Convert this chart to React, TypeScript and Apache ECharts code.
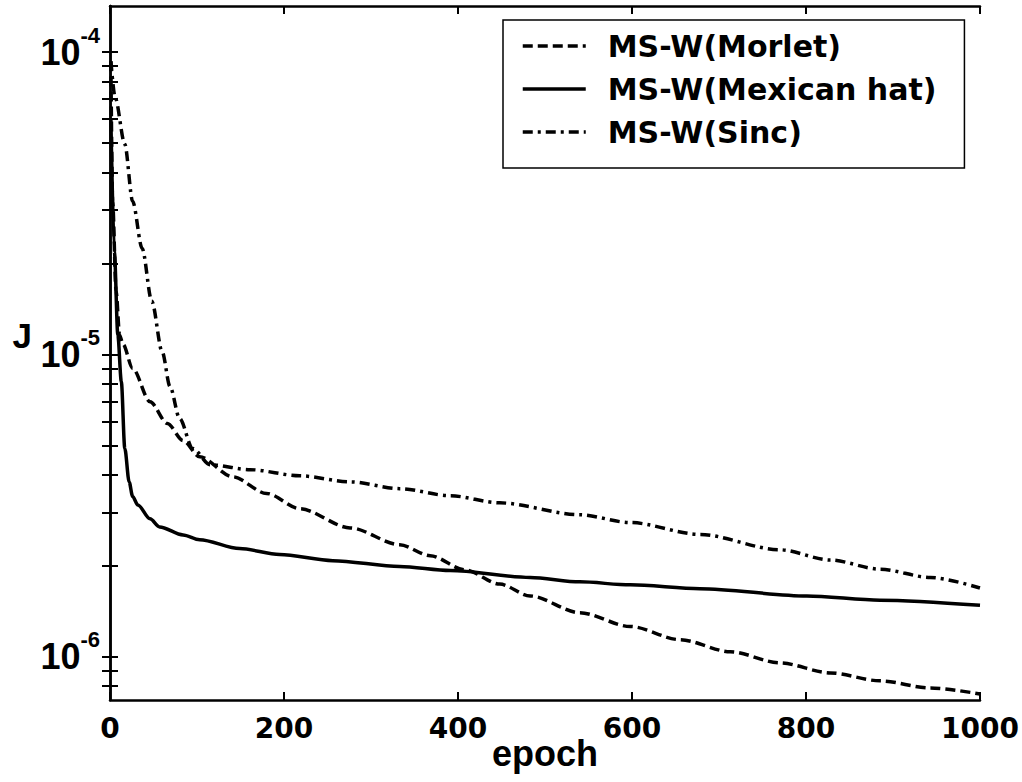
import React, { useEffect, useRef } from "react";
import * as echarts from "echarts";

const seriesNames = ["MS-W(Morlet)", "MS-W(Mexican hat)", "MS-W(Sinc)"];

const morletEpochs = [1, 3, 7, 11, 15, 26, 46, 66, 84, 103, 141, 180, 218, 276, 333, 368, 408, 448, 483, 540, 598, 655, 713, 770, 828, 885, 943, 1000];
const morletValues = [9.3e-5, 3.21e-5, 1.62e-5, 1.16e-5, 1.08e-5, 8.99e-6, 6.98e-6, 5.91e-6, 5.19e-6, 4.59e-6, 3.94e-6, 3.47e-6, 3.09e-6, 2.67e-6, 2.35e-6, 2.16e-6, 1.94e-6, 1.74e-6, 1.59e-6, 1.40e-6, 1.26e-6, 1.14e-6, 1.04e-6, 9.55e-7, 8.85e-7, 8.33e-7, 7.89e-7, 7.54e-7];

const hatEpochs = [1, 5, 9, 13, 17, 22, 26, 32, 46, 57, 84, 103, 149, 195, 256, 333, 391, 483, 540, 598, 678, 801, 885, 1000];
const hatValues = [6.0e-5, 2.19e-5, 1.16e-5, 8.14e-6, 4.89e-6, 3.79e-6, 3.39e-6, 3.18e-6, 2.86e-6, 2.69e-6, 2.53e-6, 2.44e-6, 2.28e-6, 2.18e-6, 2.08e-6, 1.99e-6, 1.93e-6, 1.83e-6, 1.77e-6, 1.73e-6, 1.68e-6, 1.59e-6, 1.54e-6, 1.48e-6];

const sincEpochs = [1, 6, 17, 26, 37, 48, 60, 69, 80, 95, 115, 161, 218, 276, 333, 391, 448, 540, 598, 678, 770, 828, 885, 943, 1000];
const sincValues = [9.33e-5, 7.05e-5, 4.96e-5, 3.21e-5, 2.24e-5, 1.5e-5, 1.02e-5, 7.83e-6, 6.14e-6, 4.89e-6, 4.32e-6, 4.16e-6, 3.97e-6, 3.79e-6, 3.6e-6, 3.41e-6, 3.23e-6, 2.95e-6, 2.78e-6, 2.54e-6, 2.26e-6, 2.09e-6, 1.95e-6, 1.83e-6, 1.69e-6];

const xTicks = [0, 200, 400, 600, 800, 1000];
const yMajorTicks = [1e-6, 1e-5, 1e-4];
const yAllTicks = [8e-7, 9e-7, 1e-6, 2e-6, 3e-6, 4e-6, 5e-6, 6e-6, 7e-6, 8e-6, 9e-6, 1e-5, 2e-5, 3e-5, 4e-5, 5e-5, 6e-5, 7e-5, 8e-5, 9e-5, 1e-4];
const yMin = 7.2e-7;
const yMax = 1.42e-4;

const zip = (xs: number[], ys: number[]) => xs.map((x, i) => [x, ys[i]]);

export default function App() {
  const ref = useRef<HTMLDivElement>(null);
  useEffect(() => {
    document.body.style.margin = "0";
    const chart = echarts.init(ref.current!, null, { renderer: "svg" });
    const axisLine = { show: true, lineStyle: { color: "#000", width: 2.5 } };
    const tick = { show: true, inside: true, length: 8, lineStyle: { color: "#000", width: 2 } };
    const yFormatter = (v: number) => {
      const e = Math.round(Math.log10(v));
      return `{b|10}{s|${e}}`;
    };
    const yAxisBase = {
      type: "log" as const,
      logBase: 10,
      min: yMin,
      max: yMax,
      splitLine: { show: false },
      minorTick: { show: false },
      axisLine,
    };
    const lineCommon = {
      type: "line" as const,
      symbol: "none",
      smooth: 0.3,
      smoothMonotone: "x" as const,
      color: "#000",
    };
    chart.setOption({
      animation: false,
      backgroundColor: "#fff",
      grid: { left: 110, right: 42, top: 6, bottom: 82, outerBoundsMode: "none", containLabel: false },
      legend: {
        left: 503,
        top: 20,
        orient: "vertical",
        data: seriesNames,
        itemWidth: 63,
        itemHeight: 14,
        itemGap: 13,
        padding: [11, 28, 21, 18],
        borderColor: "#000",
        borderWidth: 1.5,
        borderRadius: 0,
        backgroundColor: "#fff",
        itemStyle: { opacity: 0, borderWidth: 0 },
        lineStyle: { width: 3.5 },
        textStyle: {
          color: "#000",
          fontFamily: "DejaVu Sans",
          fontWeight: "bold",
          fontSize: 30,
          lineHeight: 30,
          padding: [0, 0, 0, 17],
        },
      },
      xAxis: [
        {
          type: "value",
          position: "bottom",
          min: 0,
          max: 1000,
          interval: 200,
          splitLine: { show: false },
          axisLine,
          axisTick: { ...tick, customValues: xTicks },
          axisLabel: {
            customValues: xTicks,
            formatter: (v: number) => String(v),
            margin: 14,
            color: "#000",
            fontFamily: "DejaVu Sans",
            fontWeight: "bold",
            fontSize: 28,
          },
          name: "epoch",
          nameLocation: "middle",
          nameGap: 34,
          nameMoveOverlap: false,
          nameTextStyle: {
            color: "#000",
            fontFamily: "Liberation Sans",
            fontWeight: "bold",
            fontSize: 36,
            lineHeight: 38,
          },
        },
        {
          type: "value",
          position: "top",
          min: 0,
          max: 1000,
          interval: 200,
          splitLine: { show: false },
          axisLine,
          axisTick: { ...tick, customValues: xTicks },
          axisLabel: { show: false },
        },
      ],
      yAxis: [
        {
          ...yAxisBase,
          position: "left",
          axisTick: { ...tick, customValues: yAllTicks },
          axisLabel: {
            customValues: yMajorTicks,
            margin: 10,
            formatter: yFormatter,
            color: "#000",
            rich: {
              b: { fontFamily: "Liberation Sans", fontWeight: "bold", fontSize: 36, lineHeight: 56, color: "#000" },
              s: { fontFamily: "Liberation Sans", fontWeight: "bold", fontSize: 22, lineHeight: 22, verticalAlign: "top", color: "#000" },
            },
          },
          name: "J",
          nameLocation: "middle",
          nameRotate: 0,
          nameGap: 78,
          nameMoveOverlap: false,
          nameTextStyle: {
            color: "#000",
            fontFamily: "Liberation Sans",
            fontWeight: "bold",
            fontSize: 35,
            verticalAlign: "bottom",
          },
        },
        {
          ...yAxisBase,
          position: "right",
          axisTick: { ...tick, customValues: yAllTicks },
          axisLabel: { show: false },
        },
      ],
      series: [
        {
          ...lineCommon,
          name: seriesNames[0],
          data: zip(morletEpochs, morletValues),
          lineStyle: { color: "#000", width: 3.5, type: [10, 5] },
        },
        {
          ...lineCommon,
          name: seriesNames[1],
          data: zip(hatEpochs, hatValues),
          lineStyle: { color: "#000", width: 3.5, type: "solid" },
        },
        {
          ...lineCommon,
          name: seriesNames[2],
          data: zip(sincEpochs, sincValues),
          lineStyle: { color: "#000", width: 3.5, type: [10, 5, 3, 5] },
        },
      ],
    });
    return () => chart.dispose();
  }, []);
  return <div ref={ref} style={{ width: 1022, height: 782 }} />;
}
